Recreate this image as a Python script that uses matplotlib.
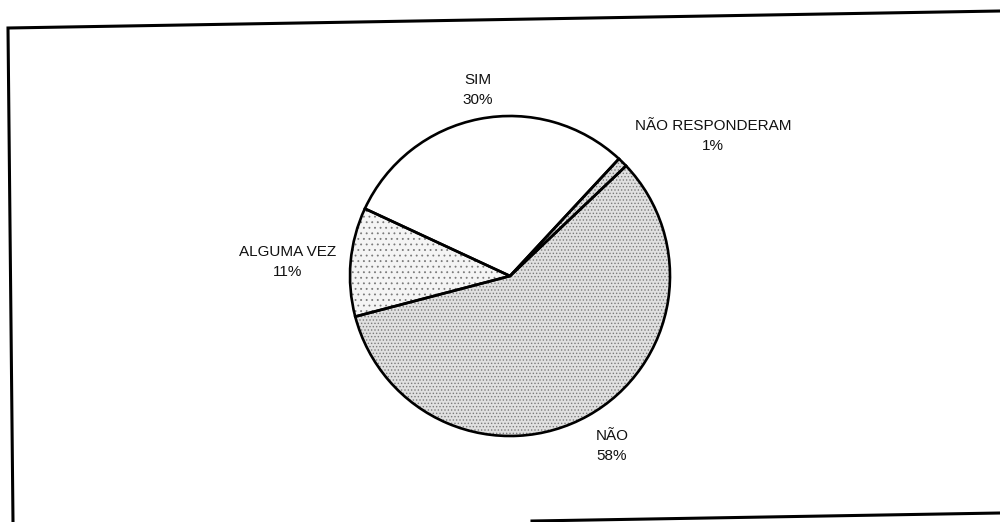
import matplotlib
matplotlib.use("Agg")
import matplotlib.pyplot as plt

plt.rcParams['font.family'] = ['Liberation Sans', 'DejaVu Sans']
plt.rcParams['hatch.linewidth'] = 0.6

# respostas
labels = ['NÃO RESPONDERAM', 'SIM', 'ALGUMA VEZ', 'NÃO']
values = [1, 30, 11, 58]
pcts = ['1%', '30%', '11%', '58%']
face = ['#dedede', '#ffffff', '#f4f4f4', '#e0e0e0']
hatches = ['.....', '', '...', '.....']

# label spots, pixel coords in the scan
lab_px = [(713, 136), (478, 90), (288, 262), (612, 446)]

W, H = 1000, 522
fig = plt.figure(figsize=(W / 100, H / 100), dpi=100)

# scanned frame, slightly skewed
bg = fig.add_axes([0, 0, 1, 1])
bg.set_xlim(0, W)
bg.set_ylim(H, 0)
bg.axis('off')
bg.plot([13, 8, 1000], [522, 28, 11], color='black', lw=2.2, solid_joinstyle='miter')
bg.plot([532, 1000], [521, 513], color='black', lw=2.2)

cx, cy, r = 510, 276, 160
ax = fig.add_axes([(cx - r) / W, (H - cy - r) / H, 2 * r / W, 2 * r / H])
ax.pie(values, colors=face, hatch=hatches, startangle=43.5, counterclock=True,
       wedgeprops=dict(edgecolor='#7a7a7a', linewidth=0))
ax.pie(values, colors=face, startangle=43.5, counterclock=True,
       wedgeprops=dict(edgecolor='black', linewidth=1.9, fill=False))
ax.set_xlim(-1.0, 1.0)
ax.set_ylim(-1.0, 1.0)
ax.set_aspect('equal')

for lab, p, (px, py) in zip(labels, pcts, lab_px):
    bg.text(px, py, lab + '\n' + p, ha='center', va='center', fontsize=11,
            linespacing=1.6, color='#111111')

fig.savefig('out.png', dpi=100)
